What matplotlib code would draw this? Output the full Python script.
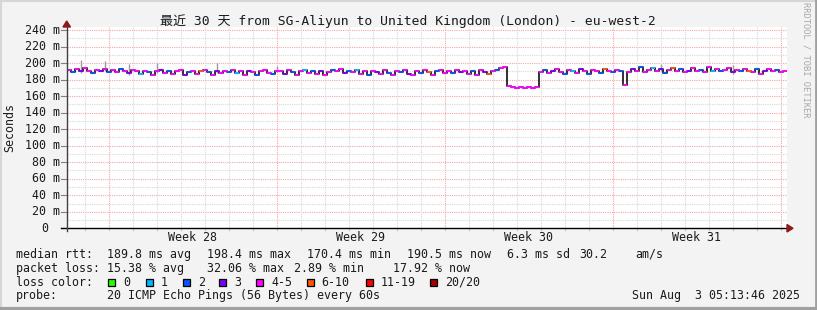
import matplotlib
matplotlib.use("Agg")
import matplotlib.pyplot as plt
from matplotlib.patches import Rectangle, Polygon
from matplotlib.lines import Line2D

# ---- data (4 hour steps over the last 30 days) ----
step_h = 4
median_ms = [
    # week 27 tail
    192, 189, 193, 190, 194, 191, 188, 192, 190, 193, 189,
    # week 28
    192, 189, 193, 190, 188, 192, 190, 187, 191, 189, 186, 190, 192, 188,
    191, 187, 190, 192, 186, 189, 191, 187, 190, 192, 189, 186, 190, 188,
    191, 189, 192, 188, 190, 186, 191, 189, 185, 190, 192, 188, 187, 191,
    # week 29
    190, 187, 192, 189, 186, 190, 192, 188, 191, 187, 190, 186, 189, 192,
    190, 193, 188, 191, 189, 192, 187, 190, 186, 191, 189, 187, 192, 188,
    186, 191, 189, 192, 187, 185, 190, 188, 192, 189, 186, 190, 192, 188,
    # week 30
    191, 188, 192, 189, 191, 187, 190, 186, 192, 189, 187, 191, 192, 194,
    195, 172, 171, 170, 171, 170, 171, 170, 171,
    189, 192, 188, 191, 193, 189, 187, 192, 190, 188, 193, 190, 187, 192,
    190, 188, 193, 191, 189,
    # week 31
    192, 190, 174, 189, 193, 191, 195, 189, 192, 194, 190, 193, 188, 192,
    194, 190, 193, 189, 191, 194, 190, 192, 189, 195, 191, 193, 190, 192,
    194, 189, 192, 190, 193, 191, 189, 193, 187, 191, 193, 190, 192, 189,
    191,
]
loss_cat = [
    4, 2, 4, 3, 4, 4, 2, 4, 3, 4, 2,
    4, 4, 2, 4, 3, 4, 4, 1, 4, 2, 4, 4, 3, 4,
    2, 4, 4, 4, 3, 2, 4, 4, 5, 4, 2, 4, 3, 4,
    4, 2, 4, 1, 4, 4, 3, 4, 2, 4, 4, 4, 2, 4,
    4, 3, 4, 2, 4, 4, 1, 4, 2, 4, 3, 4, 4, 2,
    4, 4, 3, 2, 4, 1, 4, 4, 2, 4, 3, 4, 4, 2,
    4, 4, 2, 4, 3, 4, 4, 2, 4, 5, 4, 2, 4, 4,
    4, 2, 4, 3, 4, 4, 2, 4, 4, 3, 5, 4, 2, 4,
    4, 4, 4, 4, 4, 4, 4, 4, 4,
    4, 2, 4, 3, 4, 4, 2, 4, 1, 4, 3, 4, 2, 4,
    4, 2, 5, 4, 2,
    4, 2, 4, 4, 3, 4, 2, 4, 4, 1, 4, 3, 2, 4,
    5, 4, 2, 4, 3, 4, 4, 2, 4, 4, 1, 4, 2, 4,
    4, 3, 4, 2, 4, 5, 4, 2, 4, 3, 4, 4, 2, 4,
    4,
]
smoke_idx = [3, 9, 15, 22, 37, 52, 148, 166]
smoke_top = [204, 202, 199, 200, 200, 196, 199, 198]

loss_labels = ["0", "1", "2", "3", "4-5", "6-10", "11-19", "20/20"]
loss_colors = ["#26ff00", "#00b8ff", "#0059ff", "#7e00ff", "#ff00ff",
               "#ff5500", "#ff0000", "#a00000"]

y_ticks = list(range(0, 241, 20))
week_starts = [42, 210, 378, 546, 714]
week_names = ["Week 28", "Week 29", "Week 30", "Week 31"]

title = "最近 30 天 from SG-Aliyun to United Kingdom (London) - eu-west-2"
stats_rtt = ["189.8 ms avg", "198.4 ms max", "170.4 ms min", "190.5 ms now",
             "6.3 ms sd", "30.2", "am/s"]
stats_loss = ["15.38 % avg", "32.06 % max", "2.89 % min", "17.92 % now"]
probe_text = "20 ICMP Echo Pings (56 Bytes) every 60s"
stamp_text = "Sun Aug  3 05:13:46 2025"

# ---- figure ----
W, H = 817, 310
MONO = "DejaVu Sans Mono"
fig = plt.figure(figsize=(W / 100, H / 100), dpi=100, facecolor="#f3f3f3")


def fx(x):
    return x / W


def fy(y):
    return 1 - y / H


def ftext(x, y, s, **kw):
    kw.setdefault("family", MONO)
    kw.setdefault("size", 8.4)
    kw.setdefault("va", "center")
    kw.setdefault("color", "#1a1a1a")
    fig.text(fx(x), fy(y), s, **kw)


# frame of the canvas
fig.add_artist(Line2D([fx(0), fx(W)], [fy(0.5), fy(0.5)], color="#d6d6d6", lw=1.5))
fig.add_artist(Line2D([fx(0.5), fx(0.5)], [fy(0), fy(H)], color="#d6d6d6", lw=1.5))
fig.add_artist(Line2D([fx(0), fx(W)], [fy(H - 1.5), fy(H - 1.5)], color="#a0a0a0", lw=3))
fig.add_artist(Line2D([fx(W - 1), fx(W - 1)], [fy(0), fy(H)], color="#a0a0a0", lw=2))

x0, x1 = 66.7, 786.7
y_zero = 228.3
px_per_ms = 0.826
ytop = 243.5
ax = fig.add_axes([fx(x0), fy(y_zero), (x1 - x0) / W, ytop * px_per_ms / H])
ax.set_xlim(0, 720)
ax.set_ylim(0, ytop)
ax.set_facecolor("white")
for s in ax.spines.values():
    s.set_visible(False)
ax.set_xticks([])
ax.set_yticks([])

# grid
for v in range(10, 241, 20):
    ax.axhline(v, color="#d8d8d8", lw=0.8, ls=(0, (1, 1)), zorder=1)
for v in range(20, 241, 20):
    ax.axhline(v, color="#f4a8a8", lw=0.8, ls=(0, (1, 1)), zorder=1)
for h in range(18, 720, 24):
    if h in week_starts:
        continue
    ax.axvline(h, color="#d8d8d8", lw=0.8, ls=(0, (1, 1)), zorder=1)
for h in week_starts:
    ax.axvline(h, color="#f4a8a8", lw=0.8, ls=(0, (1, 1)), zorder=1)

# smoke
for i, top in zip(smoke_idx, smoke_top):
    xm = i * step_h + step_h / 2
    ax.vlines(xm, min(median_ms[i], top) - 2, max(median_ms[i], top),
              color="#9a9a9a", lw=1, zorder=2)

# median line: dark steps, coloured by loss
xs = [i * step_h for i in range(len(median_ms))]
ax.step(xs + [720], median_ms + [median_ms[-1]], where="post",
        color="#202020", lw=1.3, zorder=3)
ax.hlines(median_ms, xs, [x + step_h for x in xs],
          colors=[loss_colors[c] for c in loss_cat], lw=1.5, zorder=4)

# axes lines, ticks and arrows
ax.plot([-6, 722], [0, 0], color="black", lw=1, clip_on=False, zorder=5)
ax.plot([0, 0], [-3, ytop + 2], color="#404040", lw=1, clip_on=False, zorder=5)
for v in y_ticks:
    ax.plot([-5.5, 0], [v, v], color="#808080", lw=0.8, clip_on=False)
for h in range(18, 720, 24):
    ax.plot([h, h], [0, -2.5], color="#c0c0c0", lw=0.8, clip_on=False)
fig.add_artist(Polygon([(fx(63), fy(27)), (fx(70.5), fy(27)), (fx(66.7), fy(21))],
                       closed=True, color="#8b1a1a"))
fig.add_artist(Polygon([(fx(787), fy(224.5)), (fx(787), fy(232)), (fx(793), fy(228.3))],
                       closed=True, color="#8b1a1a"))

# tick labels
for v in y_ticks:
    lab = f"{v} m" if v else "0"
    xr = 60 if v else 48
    ftext(xr, y_zero - v * px_per_ms, lab, ha="right")
for k, name in enumerate(week_names):
    mid = (week_starts[k] + week_starts[k + 1]) / 2
    ftext(x0 + mid, 237.5, name, ha="center")

# titles
fig.text(fx(408), fy(21.5), title, family=[MONO, "Noto Sans CJK SC"],
         size=9.4, ha="center", va="center", color="#1a1a1a")
ftext(10, 128, "Seconds", ha="center", rotation=90)
ftext(806, 60, "RRDTOOL / TOBI OETIKER", ha="center", rotation=270,
      size=6.3, color="#a8a8a8")

# legend
rows = [254.3, 268.3, 282.3, 296]
ftext(16, rows[0], "median rtt:", ha="left")
for x, s in zip([107.3, 207.3, 306.7, 407.3, 507.3, 579.3, 635], stats_rtt):
    ftext(x, rows[0], s, ha="left")
ftext(16, rows[1], "packet loss:", ha="left")
for x, s in zip([107.3, 207.3, 294.3, 393.3], stats_loss):
    ftext(x, rows[1], s, ha="left")
ftext(16, rows[2], "loss color:", ha="left")
box_x = [108.3, 145.7, 182.7, 219.3, 256, 306.7, 365.7, 430]
for bx, lab, col in zip(box_x, loss_labels, loss_colors):
    fig.add_artist(Rectangle((fx(bx), fy(rows[2] + 3.5)), 7 / W, 7 / H,
                             facecolor=col, edgecolor="black", lw=0.9))
    ftext(bx + 15, rows[2], lab, ha="left")
ftext(16, rows[3], "probe:", ha="left")
ftext(107.3, rows[3], probe_text, ha="left")
ftext(800, rows[3], stamp_text, ha="right")

fig.savefig("out.png", dpi=100, facecolor=fig.get_facecolor())
